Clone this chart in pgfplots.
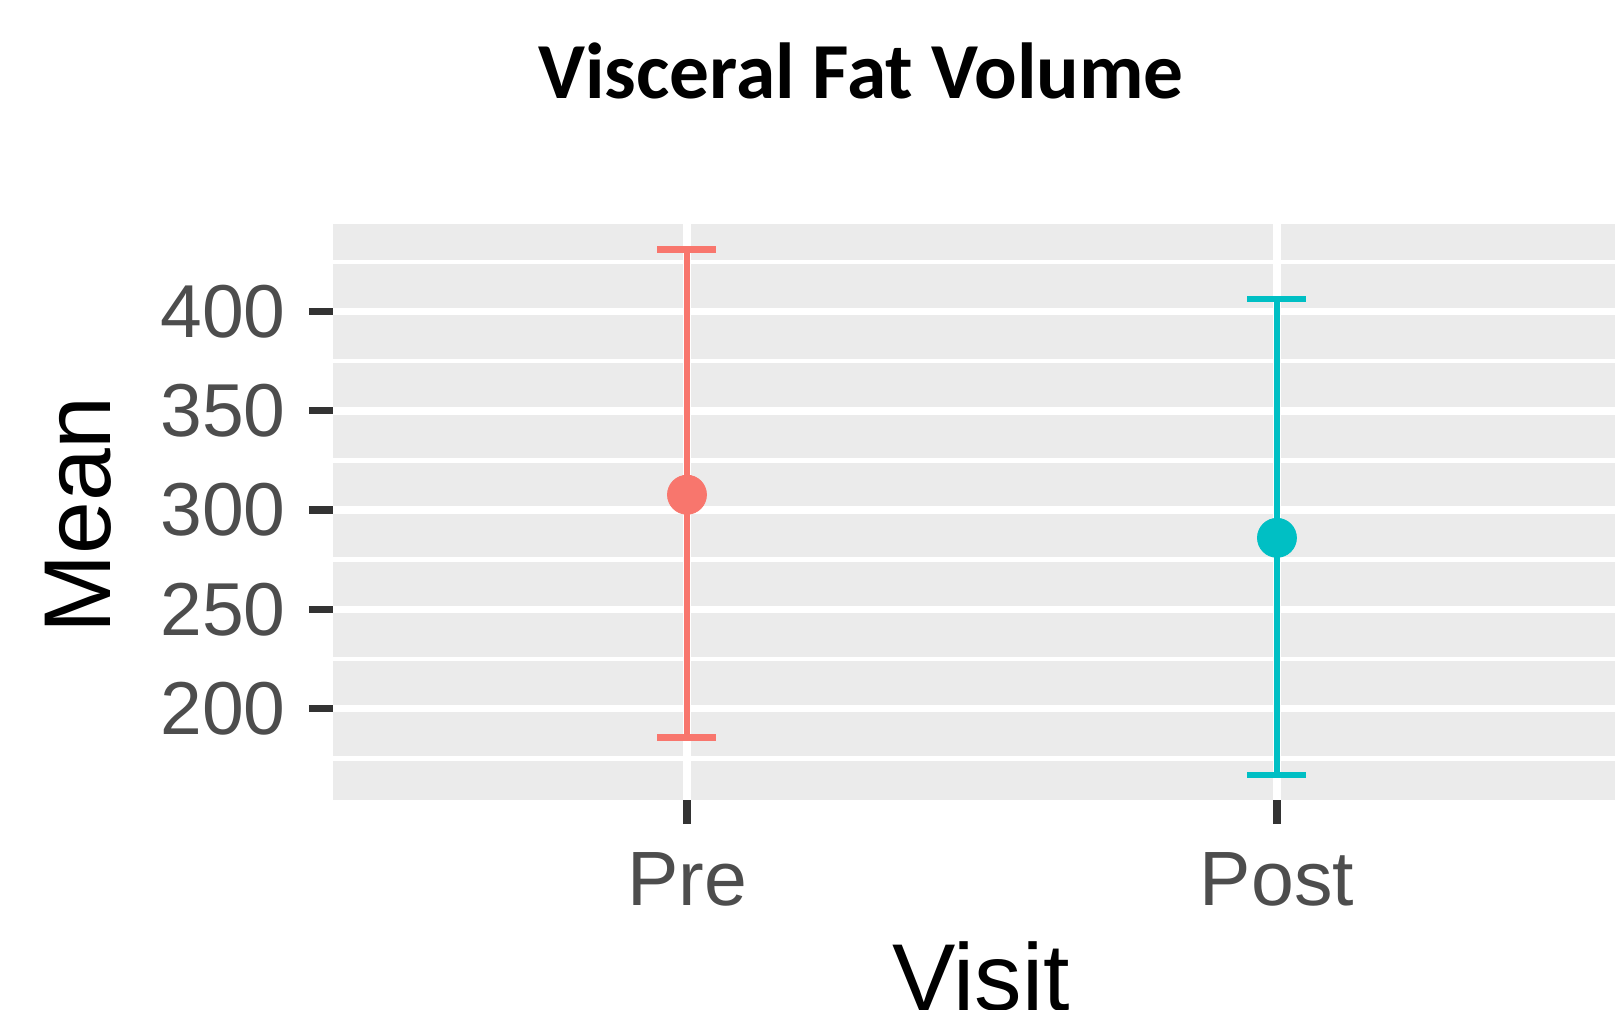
\documentclass[border=0pt]{standalone}
\usepackage{fontspec}
\setmainfont{Liberation Sans}
\newfontfamily\titlefont{Carlito}
\usepackage{pgfplots}
\pgfplotsset{compat=1.18}
\definecolor{preC}{HTML}{F8766D}
\definecolor{postC}{HTML}{00BFC4}
\definecolor{panelC}{HTML}{EBEBEB}
\definecolor{tickC}{HTML}{333333}
\definecolor{labC}{HTML}{4D4D4D}
\begin{document}
\begin{tikzpicture}
\useasboundingbox (0,0) rectangle (807.5pt,504.5pt);
\begin{axis}[
  at={(166.5pt,104.5pt)}, anchor=south west,
  scale only axis, width=641pt, height=288pt,
  xmin=0.4, xmax=2.573, ymin=154, ymax=444,
  axis background/.style={fill=panelC},
  axis line style={draw=none},
  xtick={1,2}, xticklabels={Pre,Post},
  ytick={200,250,300,350,400},
  minor ytick={175,225,275,325,375,425},
  grid=both,
  major grid style={white, line width=3.8pt},
  minor grid style={white, line width=2.2pt},
  tick align=outside, tick pos=left,
  major tick length=12pt,
  minor tick length=0pt,
  tick style={line width=3.6pt, color=tickC},
  /pgf/number format/assume math mode=true,
  yticklabel style={font=\fontsize{37.5pt}{44pt}\selectfont, color=labC, inner sep=0pt, xshift=-11.5pt},
  xticklabel style={font=\fontsize{38.5pt}{44pt}\selectfont, color=labC, inner sep=0pt, yshift=-14pt},
  clip=false,
]
% Pre error bar: stem and caps
\addplot[preC, line width=3.4pt] coordinates {(1,185.5) (1,431)};
\addplot[preC, line width=3.4pt] coordinates {(0.95,431) (1.05,431)};
\addplot[preC, line width=3.4pt] coordinates {(0.95,185.5) (1.05,185.5)};
% Post error bar: stem and caps
\addplot[postC, line width=3.4pt] coordinates {(2,166.6) (2,406.2)};
\addplot[postC, line width=3.4pt] coordinates {(1.95,406.2) (2.05,406.2)};
\addplot[postC, line width=3.4pt] coordinates {(1.95,166.6) (2.05,166.6)};
% means
\addplot[only marks, mark=*, mark size=9.75pt, preC, fill=preC] coordinates {(1,307.7)};
\addplot[only marks, mark=*, mark size=9.75pt, postC, fill=postC] coordinates {(2,286)};
\end{axis}
\node[anchor=base, font=\titlefont\bfseries\fontsize{39.7pt}{46pt}\selectfont] at (430.5pt,455pt) {Visceral Fat Volume};
\node[anchor=base, rotate=90, font=\fontsize{47.5pt}{54pt}\selectfont] at (55pt,247pt) {Mean};
\node[anchor=base, font=\fontsize{47.5pt}{54pt}\selectfont] at (490.5pt,-0.75pt) {Visit};
\end{tikzpicture}
\end{document}
